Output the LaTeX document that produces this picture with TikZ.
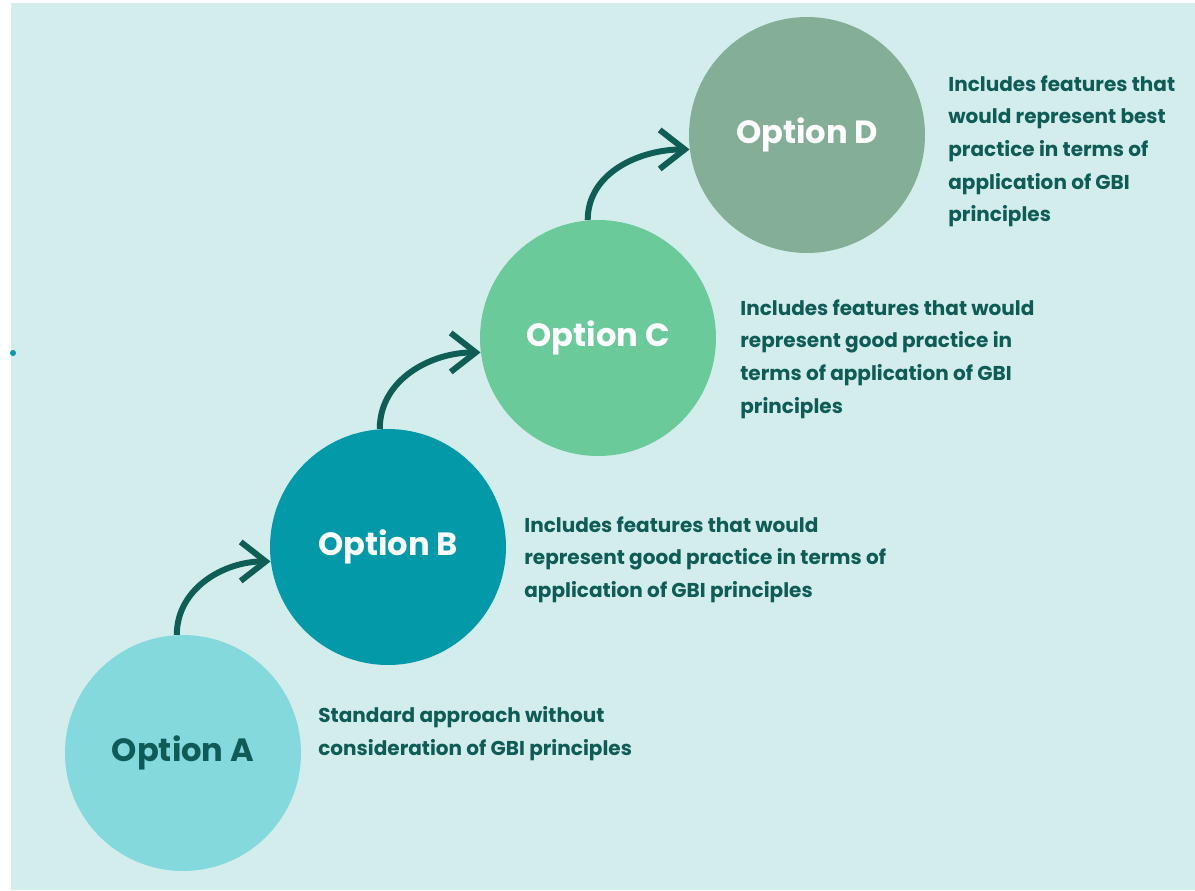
\documentclass[tikz,border=0pt]{standalone}
\usepackage{fontspec}
\setmainfont{Poppins}
\usetikzlibrary{arrows.meta,positioning}
\usepackage{xcolor}
\newcommand{\optunit}{4.72cm}
\definecolor{paper}{HTML}{D2EDEB}
\definecolor{optacol}{HTML}{84D9DD}
\definecolor{optbcol}{HTML}{0299A8}
\definecolor{optccol}{HTML}{6BCA9A}
\definecolor{optdcol}{HTML}{84AE96}
\definecolor{inkdark}{HTML}{0F5B56}
\definecolor{arrowink}{HTML}{0E5E55}
\tikzset{
    optsty/.style={circle,minimum size=\optunit,inner sep=0pt,text=white,
        font=\bfseries\fontsize{18.3}{20}\selectfont},
    descsty/.style={anchor=north west,inner sep=0pt,align=left,text=inkdark,
        font=\bfseries\fontsize{11.4}{18.6}\selectfont},
    stepsty/.style={draw=arrowink,line width=3.4pt,
        -{Straight Barb[length=0.5cm,width=0.78cm,line width=3.4pt]}},
}

\begin{document}
\begin{tikzpicture}[x=0.02cm,y=-0.02cm]
  \fill[white] (0,0) rectangle (1195,890);
  \fill[paper] (11,3) rectangle (1195,890);
  \useasboundingbox (0,0) rectangle (1195,890);
  \fill[optbcol] (13,353) circle (3);

  \node[optsty, fill=optacol, text=inkdark] (optA) at (183,753) {Option A};
  \node[optsty, fill=optbcol] (optB) at (388,547) {Option B};
  \node[optsty, fill=optccol] (optC) at (598,338) {Option C};
  \node[optsty, fill=optdcol] (optD) at (807,135) {Option D};

  \draw[stepsty] (optA.93) to[out=90,in=180] (optB.187);
  \draw[stepsty] (optB.94) to[out=90,in=180] (optC.187);
  \draw[stepsty] (optC.95) to[out=90,in=180] (optD.187);

  \node[descsty] (descA) at (318,706) {Standard approach without\\consideration of GBI principles};
  \node[descsty] (descB) at (524,516) {Includes features that would\\represent good practice in terms of\\application of GBI principles};
  \node[descsty] (descC) at (740,299) {Includes features that would\\represent good practice in\\terms of application of GBI\\principles};
  \node[descsty] (descD) at (948,75) {Includes features that\\would represent best\\practice in terms of\\application of GBI\\principles};
\end{tikzpicture}
\end{document}
